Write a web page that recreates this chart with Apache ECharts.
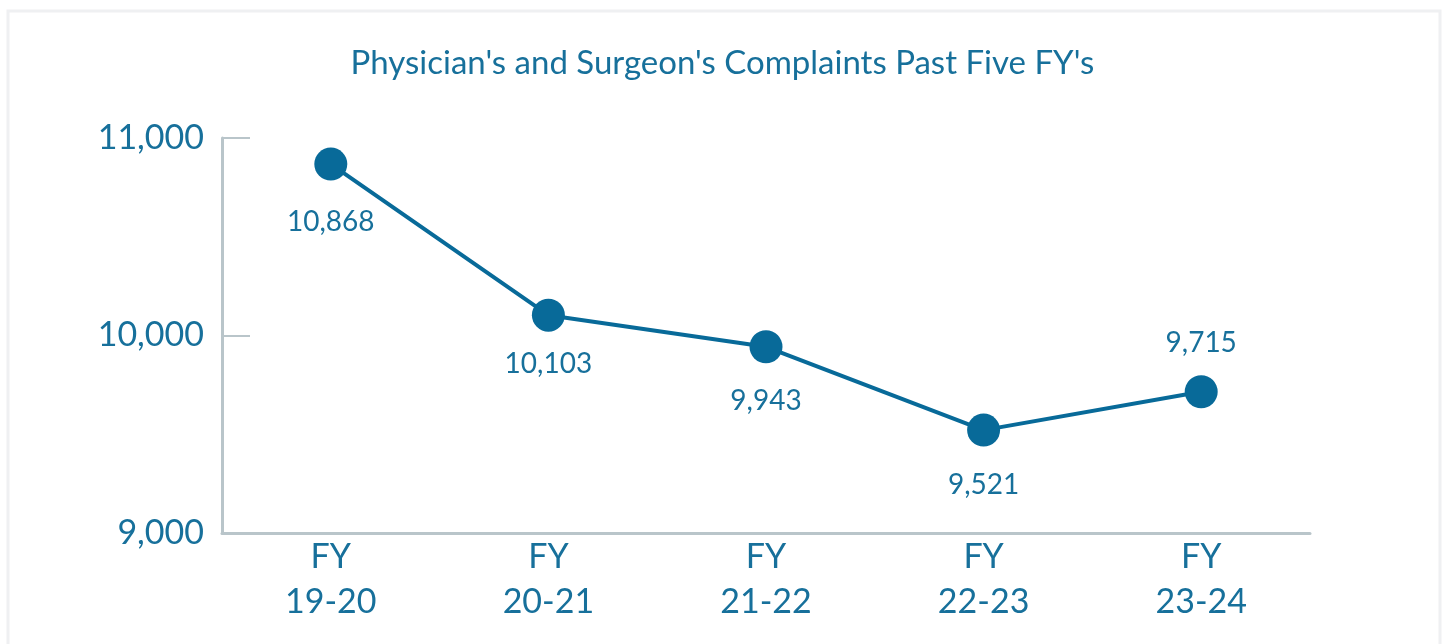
<!DOCTYPE html>
<html>
<head>
<meta charset="utf-8">
<script src="https://cdn.jsdelivr.net/npm/echarts@6/dist/echarts.min.js"></script>
<style>
  html, body { margin: 0; padding: 0; background: #fff; }
  #chart { width: 1445px; height: 644px; }
</style>
</head>
<body>
<div id="chart"></div>
<script>
var years = ['FY\n19-20', 'FY\n20-21', 'FY\n21-22', 'FY\n22-23', 'FY\n23-24'];
var complaints = [10868, 10103, 9943, 9521, 9715];

var textColor = '#17709b';
var lineColor = '#086a99';
var axisColor = '#b9c5ca';

// label placement for each point (style only)
var labelPlace = [
    { position: 'bottom', distance: 27 },
    { position: 'bottom', distance: 18 },
    { position: 'bottom', distance: 24 },
    { position: 'bottom', distance: 24 },
    { position: 'top', distance: 18 }
];

var myChart = echarts.init(document.getElementById('chart'));

var seriesData = complaints.map(function (v, i) {
    return { value: v, label: labelPlace[i] };
});

var option = {
    animation: false,
    textStyle: { fontFamily: 'Lato' },
    graphic: [{
        type: 'rect',
        shape: { x: 8, y: 11, width: 1432, height: 700 },
        style: { fill: 'none', stroke: '#eff0f2', lineWidth: 3 },
        silent: true
    }],
    title: {
        text: "Physician's and Surgeon's Complaints Past Five FY's",
        left: 'center',
        top: 42,
        textStyle: { color: textColor, fontSize: 33, fontWeight: 'normal', fontFamily: 'Lato' }
    },
    grid: { left: 222, right: 135, top: 138, bottom: 111 },
    xAxis: {
        type: 'category',
        data: years,
        boundaryGap: true,
        axisLine: { lineStyle: { color: axisColor, width: 3 } },
        axisTick: { inside: true, length: 10, lineStyle: { color: axisColor, width: 2 } },
        axisLabel: { color: textColor, fontSize: 34, lineHeight: 45, margin: 2 }
    },
    yAxis: {
        type: 'value',
        min: 9000,
        max: 11000,
        interval: 1000,
        splitLine: { show: false },
        axisLine: { show: true, lineStyle: { color: axisColor, width: 3 } },
        axisTick: { show: true, inside: true, length: 28, lineStyle: { color: axisColor, width: 2 } },
        axisLabel: {
            color: textColor, fontSize: 34, margin: 18,
            formatter: function (v) { return v.toLocaleString('en-US'); }
        }
    },
    series: [{
        type: 'line',
        data: seriesData,
        symbol: 'circle',
        symbolSize: 33,
        itemStyle: { color: lineColor },
        lineStyle: { color: lineColor, width: 4 },
        label: {
            show: true,
            color: textColor,
            fontSize: 28,
            formatter: function (p) { return p.value.toLocaleString('en-US'); }
        }
    }]
};

myChart.setOption(option);
</script>
</body>
</html>
